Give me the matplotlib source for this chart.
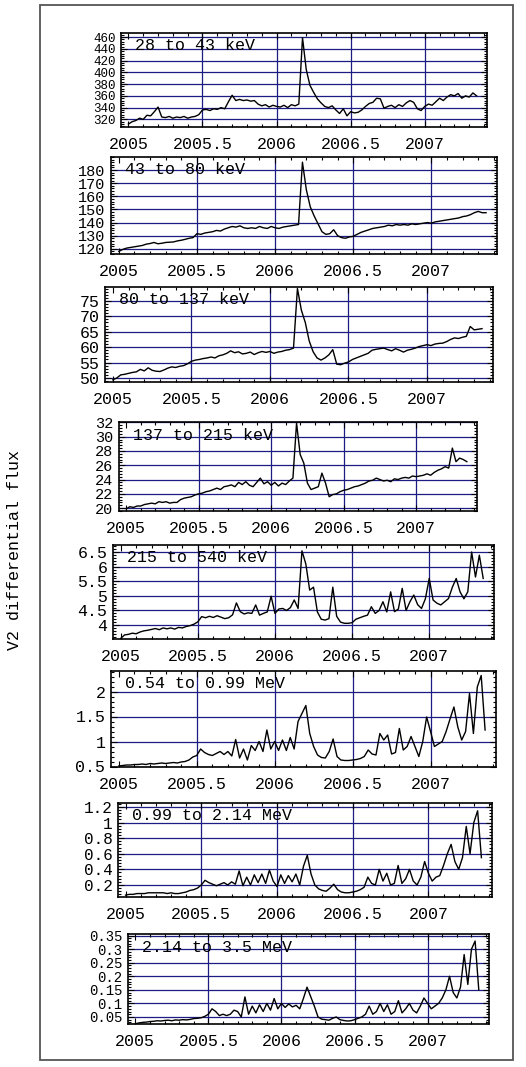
import numpy as np
import matplotlib.pyplot as plt
from matplotlib.patches import Rectangle
from matplotlib.ticker import MultipleLocator, AutoMinorLocator, FuncFormatter

plt.rcParams['font.family'] = ['Liberation Mono', 'DejaVu Sans Mono']

# one sample every 0.025 yr, 2005.0 .. 2007.35
years = np.round(np.arange(2005.0, 2007.351, 0.025), 3)

labels = ["28 to 43 keV", "43 to 80 keV", "80 to 137 keV", "137 to 215 keV",
          "215 to 540 keV", "0.54 to 0.99 MeV", "0.99 to 2.14 MeV", "2.14 to 3.5 MeV"]

flux_28_43 = [312, 316, 318, 322, 320, 327, 326, 333, 341, 324,
              323, 325, 322, 324, 323, 325, 322, 324, 325, 328,
              336, 337, 335, 338, 337, 340, 338, 350, 361, 352,
              354, 352, 353, 351, 352, 346, 343, 345, 341, 344,
              342, 341, 344, 340, 345, 343, 346, 459, 405, 378,
              366, 355, 348, 342, 340, 343, 336, 330, 338, 326,
              333, 331, 332, 336, 342, 347, 349, 356, 355, 339,
              342, 344, 340, 345, 342, 348, 352, 349, 338, 335,
              342, 346, 344, 350, 356, 352, 358, 362, 360, 364,
              356, 360, 358, 365, 360]

flux_43_80 = [118, 119.5, 120.5, 121, 121.5, 122, 122.5, 123.5, 124, 124.8,
              123.8, 124.2, 124.8, 125, 125.2, 126, 126.5, 127.2, 128, 128.5,
              131.5, 131, 132, 132.5, 133, 134, 133.5, 135, 136, 137,
              136.5, 137.5, 136, 135.5, 136, 135.5, 137, 136, 135.5, 137,
              136, 135.5, 136.5, 137, 137.5, 138, 138.5, 186, 165, 152,
              145, 139, 133, 131, 131.5, 134.5, 130, 128.5, 128, 129,
              129.5, 131, 132.5, 133.5, 134.5, 135.5, 136, 136.5, 137, 138,
              137.5, 138.5, 138, 138.5, 138, 139, 138.5, 139, 139.5, 140,
              139.5, 140.5, 141, 141.5, 142, 142.5, 143, 143.5, 144.5, 145,
              146, 147.5, 148.5, 147.5, 147.5]

flux_80_137 = [49.4, 50, 51, 51.2, 51.5, 51.8, 52, 52.8, 52.3, 53.3,
               52.5, 52.2, 52.1, 52.6, 53.2, 53.6, 53.4, 53.8, 54, 54.6,
               55.4, 55.8, 56, 56.3, 56.5, 56.8, 56.5, 57.2, 57.5, 58,
               58.8, 58.2, 58.5, 57.8, 58, 58.4, 57.6, 58.2, 58.6, 58.3,
               58.6, 58, 58.4, 58.6, 59, 59.2, 59.7, 79, 72, 68,
               62, 58.5, 56.5, 55.8, 56.5, 57.5, 59.2, 54.5, 54.3, 54.8,
               55.2, 56, 56.5, 57, 57.5, 58, 59, 59.3, 59.5, 59.7,
               59.2, 58.8, 59.5, 59, 58.4, 59, 59.3, 59.7, 60.2, 60.5,
               60.8, 60.5, 61, 61.2, 61.3, 61.8, 62.5, 63, 62.8, 63.2,
               63.5, 66.7, 65.6, 65.8, 66]

flux_137_215 = [19.9, 20.2, 20.1, 20.3, 20.3, 20.5, 20.6, 20.7, 20.6, 20.9,
                20.8, 20.9, 20.7, 20.8, 20.8, 21.2, 21.4, 21.5, 21.6, 21.85,
                22, 22.1, 22.3, 22.4, 22.6, 22.8, 22.6, 23, 23.1, 23.25,
                23, 23.6, 23.3, 23.7, 23.2, 23, 23.6, 24.2, 23.4, 23.7,
                23.2, 23.6, 23.1, 23.5, 23.3, 23.8, 24.2, 31.9, 27.5, 26.3,
                23.5, 22.6, 22.8, 23, 24.9, 23.5, 21.6, 21.9, 22, 22.3,
                22.5, 22.6, 22.8, 23, 23.1, 23.3, 23.5, 23.8, 23.9, 24.2,
                24, 23.8, 23.9, 23.7, 24.1, 24, 24.2, 24.3, 24.2, 24.5,
                24.4, 24.5, 24.6, 24.8, 24.6, 25, 25.3, 25.5, 25.8, 25.6,
                28.4, 26.5, 27, 26.8, 26.5]

flux_215_540 = [3.54, 3.66, 3.68, 3.72, 3.7, 3.76, 3.8, 3.82, 3.85, 3.88,
                3.84, 3.9, 3.87, 3.9, 3.86, 3.92, 3.9, 3.95, 3.98, 4.03,
                4.11, 4.29, 4.25, 4.3, 4.26, 4.32, 4.27, 4.22, 4.25, 4.35,
                4.76, 4.46, 4.38, 4.42, 4.4, 4.69, 4.34, 4.4, 4.45, 4.99,
                4.4, 4.55, 4.57, 4.5, 4.6, 4.86, 4.57, 6.55, 6.1, 5.2,
                5.3, 4.45, 4.2, 4.17, 4.22, 5.3, 4.3, 4.1, 4.06, 4.06,
                4.08, 4.2, 4.25, 4.3, 4.34, 4.63, 4.4, 4.5, 4.8, 4.45,
                5.14, 4.46, 4.55, 5.26, 4.5, 4.8, 5.03, 4.7, 4.57, 4.9,
                5.6, 4.86, 4.75, 4.69, 4.8, 4.91, 5.3, 5.6, 5.14, 4.9,
                5.14, 6.51, 5.65, 6.4, 5.6]

flux_054_099 = [0.51, 0.52, 0.53, 0.53, 0.54, 0.54, 0.55, 0.54, 0.56, 0.55,
                0.56, 0.57, 0.56, 0.57, 0.58, 0.57, 0.59, 0.6, 0.63, 0.69,
                0.72, 0.85, 0.78, 0.74, 0.72, 0.76, 0.8, 0.74, 0.8, 0.71,
                1.04, 0.67, 0.85, 0.63, 0.92, 0.82, 1.0, 0.8, 1.23, 0.85,
                1.0, 0.82, 1.03, 0.82, 1.08, 0.85, 1.4, 1.56, 1.72, 1.16,
                0.9, 0.73, 0.68, 0.67, 0.8, 1.05, 0.7, 0.63, 0.62, 0.62,
                0.63, 0.64, 0.66, 0.7, 0.83, 0.75, 0.73, 1.16, 1.03, 1.13,
                0.75, 0.78, 1.26, 0.83, 0.9, 1.1, 0.9, 0.7, 1.0, 1.49,
                1.2, 0.9, 0.95, 1.0, 1.2, 1.45, 1.69, 1.29, 1.03, 1.2,
                1.96, 1.16, 2.09, 2.32, 1.23]

flux_099_214 = [0.07, 0.08, 0.08, 0.09, 0.09, 0.09, 0.1, 0.1, 0.1, 0.1,
                0.1, 0.09, 0.1, 0.09, 0.09, 0.1, 0.11, 0.13, 0.14, 0.16,
                0.2, 0.26, 0.23, 0.21, 0.19, 0.21, 0.23, 0.2, 0.24, 0.21,
                0.38, 0.19, 0.3, 0.2, 0.33, 0.23, 0.34, 0.22, 0.39, 0.25,
                0.18, 0.33, 0.22, 0.32, 0.24, 0.34, 0.2, 0.44, 0.58, 0.34,
                0.2, 0.15, 0.13, 0.12, 0.16, 0.21, 0.14, 0.11, 0.1, 0.1,
                0.11, 0.12, 0.14, 0.17, 0.3, 0.22, 0.2, 0.4, 0.25, 0.35,
                0.2, 0.22, 0.45, 0.22, 0.28, 0.4, 0.25, 0.2, 0.3, 0.5,
                0.35, 0.25, 0.3, 0.32, 0.45, 0.6, 0.72, 0.5, 0.4, 0.55,
                0.95, 0.6, 1.0, 1.15, 0.55]

flux_214_35 = [0.025, 0.028, 0.03, 0.031, 0.033, 0.034, 0.036, 0.035, 0.037, 0.038,
               0.036, 0.039, 0.038, 0.04, 0.039, 0.041, 0.044, 0.045, 0.047, 0.052,
               0.06, 0.08, 0.07, 0.055, 0.06, 0.055, 0.06, 0.075, 0.07, 0.05,
               0.124, 0.06, 0.09, 0.065, 0.095, 0.07, 0.1, 0.075, 0.118, 0.08,
               0.1, 0.085, 0.098, 0.087, 0.093, 0.08, 0.118, 0.16, 0.125, 0.09,
               0.05, 0.042, 0.04, 0.038, 0.045, 0.05, 0.04, 0.037, 0.035, 0.036,
               0.04, 0.045, 0.05, 0.06, 0.09, 0.06, 0.07, 0.1, 0.07, 0.095,
               0.06, 0.07, 0.11, 0.065, 0.08, 0.1, 0.075, 0.065, 0.09, 0.12,
               0.1, 0.08, 0.09, 0.1, 0.12, 0.15, 0.2, 0.14, 0.12, 0.16,
               0.28, 0.17, 0.3, 0.33, 0.15]

series = [flux_28_43, flux_43_80, flux_80_137, flux_137_215,
          flux_215_540, flux_054_099, flux_099_214, flux_214_35]

yticks = [[320, 340, 360, 380, 400, 420, 440, 460],
          [120, 130, 140, 150, 160, 170, 180],
          [50, 55, 60, 65, 70, 75],
          [20, 22, 24, 26, 28, 30, 32],
          [4, 4.5, 5, 5.5, 6, 6.5],
          [0.5, 1, 1.5, 2],
          [0.2, 0.4, 0.6, 0.8, 1, 1.2],
          [0.05, 0.1, 0.15, 0.2, 0.25, 0.3, 0.35]]
xticks = [2005, 2005.5, 2006, 2006.5, 2007]
xgrid = [2005.5, 2006, 2006.5, 2007]

# layout: panel boxes in pixels (left, top, right, bottom), y ranges, y label size
boxes = [(121, 33, 487, 127), (111, 157, 497, 254), (105, 287, 493, 382),
         (119, 422, 477, 511), (113, 545, 494, 639), (111, 671, 496, 767),
         (118, 803, 492, 897), (128, 934, 489, 1024)]
ylims = [(307, 467), (116, 190), (48.7, 79.5), (19.6, 32.05),
         (3.52, 6.75), (0.49, 2.41), (0.046, 1.25), (0.024, 0.356)]
ysize = [9, 11, 12, 11, 12, 12, 11.5, 10]

W, H = 526, 1067
navy = '#1c1c82'
fig = plt.figure(figsize=(W / 100, H / 100), dpi=100)

fig.add_artist(Rectangle((40 / W, 1 - 1060 / H), 473 / W, 1055 / H,
                         transform=fig.transFigure, fill=False,
                         edgecolor='#555555', lw=1.3))
fig.text(15 / W, 1 - 550 / H, "V2 differential flux", rotation=90,
         ha='center', va='center', fontsize=12)

fmt = FuncFormatter(lambda v, p: '%g' % v)

for i in range(8):
    l, tp, r, b = boxes[i]
    ax = fig.add_axes([l / W, 1 - b / H, (r - l) / W, (b - tp) / H])
    for y in yticks[i]:
        ax.axhline(y, color=navy, lw=0.9, zorder=1)
    for x in xgrid:
        ax.axvline(x, color=navy, lw=0.9, zorder=1)
    ax.plot(years, series[i], color='black', lw=1.0, zorder=3)
    ax.set_xlim(2004.95, 2007.42)
    ax.set_ylim(*ylims[i])
    ax.set_xticks(xticks)
    ax.set_yticks(yticks[i])
    ax.xaxis.set_minor_locator(MultipleLocator(0.1))
    ax.yaxis.set_minor_locator(AutoMinorLocator(5))
    ax.xaxis.set_major_formatter(fmt)
    ax.yaxis.set_major_formatter(fmt)
    ax.tick_params(which='both', direction='in', top=True, right=True, width=0.8)
    ax.tick_params(which='major', length=4)
    ax.tick_params(which='minor', length=2)
    ax.tick_params(axis='x', pad=7, labelsize=12)
    ax.tick_params(axis='y', pad=4, labelsize=ysize[i])
    for s in ax.spines.values():
        s.set_linewidth(1.2)
    ax.annotate(labels[i], xy=(0, 1), xycoords='axes fraction',
                xytext=(14, -13), textcoords='offset pixels',
                ha='left', va='center', fontsize=12, zorder=4)

fig.savefig('out.png', dpi=100)
